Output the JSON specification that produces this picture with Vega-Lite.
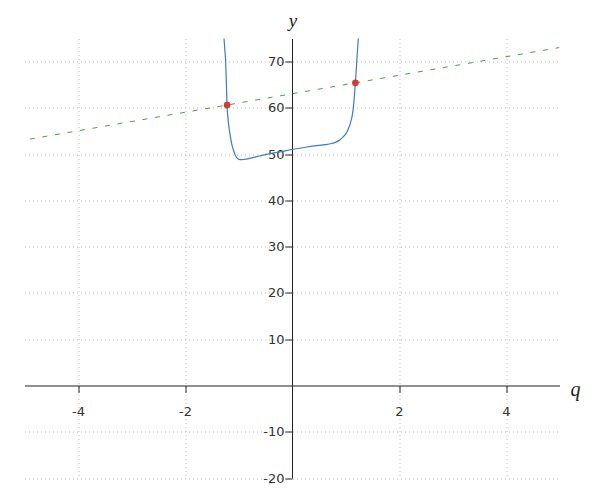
{
  "$schema": "https://vega.github.io/schema/vega-lite/v6.json",
  "autosize": "none",
  "width": 535,
  "height": 439.5,
  "padding": {"left": 24.5, "top": 38.5, "right": 40.5, "bottom": 22},
  "background": "white",
  "config": {"view": {"stroke": null}},
  "datasets": {
    "curve": [
      {"x": -1.271, "y": 75.1}, {"x": -1.255, "y": 72.5}, {"x": -1.239, "y": 69.8},
      {"x": -1.227, "y": 65.5}, {"x": -1.215, "y": 60.7}, {"x": -1.198, "y": 58.0},
      {"x": -1.178, "y": 55.8}, {"x": -1.150, "y": 53.7}, {"x": -1.127, "y": 52.2},
      {"x": -1.095, "y": 50.9}, {"x": -1.065, "y": 49.9}, {"x": -1.030, "y": 49.2},
      {"x": -0.972, "y": 48.8}, {"x": -0.900, "y": 48.85}, {"x": -0.750, "y": 49.2},
      {"x": -0.505, "y": 49.9}, {"x": -0.250, "y": 50.45}, {"x": 0.0, "y": 51.0},
      {"x": 0.250, "y": 51.5}, {"x": 0.500, "y": 51.9}, {"x": 0.617, "y": 52.05},
      {"x": 0.741, "y": 52.3}, {"x": 0.820, "y": 52.6}, {"x": 0.897, "y": 53.1},
      {"x": 0.960, "y": 53.8}, {"x": 1.022, "y": 54.7}, {"x": 1.065, "y": 55.8},
      {"x": 1.103, "y": 57.2}, {"x": 1.128, "y": 58.5}, {"x": 1.146, "y": 60.0},
      {"x": 1.166, "y": 62.5}, {"x": 1.184, "y": 65.4}, {"x": 1.198, "y": 67.7},
      {"x": 1.209, "y": 69.8}, {"x": 1.225, "y": 72.5}, {"x": 1.240, "y": 75.1}
    ],
    "tangent": [{"x": -4.9, "y": 53.25}, {"x": 5.0, "y": 73.05}],
    "pts": [{"x": -1.213, "y": 60.62}, {"x": 1.185, "y": 65.42}]
  },
  "encoding": {
    "x": {
      "field": "x", "type": "quantitative",
      "scale": {"domain": [-5, 5], "nice": false, "zero": false},
      "axis": {
        "orient": "bottom", "offset": -92.5,
        "values": [-4, -2, 2, 4],
        "labelExpr": "'' + datum.value",
        "grid": true, "gridColor": "#bbbbbb", "gridDash": [1, 3], "gridWidth": 1,
        "domainColor": "#222222", "domainWidth": 1,
        "tickColor": "#222222", "tickSize": 7, "tickWidth": 1,
        "labelFont": "DejaVu Sans", "labelFontSize": 13, "labelColor": "#333333", "labelPadding": 13,
        "title": "q", "titleFont": "Liberation Serif", "titleFontStyle": "italic", "titleFontWeight": "normal",
        "titleFontSize": 20, "titleColor": "#222222", "titleAngle": 0,
        "titleX": 550.5, "titleY": 9.5, "titleAlign": "center", "titleBaseline": "alphabetic"
      }
    },
    "y": {
      "field": "y", "type": "quantitative",
      "scale": {"domain": [-20, 75], "nice": false, "zero": false},
      "axis": {
        "orient": "left", "offset": -267.5,
        "values": [-20, -10, 10, 20, 30, 40, 50, 60, 70],
        "labelExpr": "'' + datum.value",
        "grid": true, "gridColor": "#bbbbbb", "gridDash": [1, 3], "gridWidth": 1,
        "domainColor": "#222222", "domainWidth": 1,
        "tickColor": "#222222", "tickSize": 7, "tickWidth": 1,
        "labelFont": "DejaVu Sans", "labelFontSize": 13, "labelColor": "#333333", "labelPadding": 1,
        "title": "y", "titleFont": "Liberation Serif", "titleFontStyle": "italic", "titleFontWeight": "normal",
        "titleFontSize": 19, "titleColor": "#222222", "titleAngle": 0,
        "titleX": 0.5, "titleY": -12, "titleAlign": "center", "titleBaseline": "alphabetic"
      }
    }
  },
  "layer": [
    {
      "data": {"name": "tangent"},
      "mark": {"type": "line", "color": "#4c9a4c", "strokeWidth": 1, "strokeDash": [5, 7.7], "clip": true}
    },
    {
      "data": {"name": "curve"},
      "mark": {"type": "line", "color": "#3b7cc4", "strokeWidth": 1.2, "interpolate": "monotone", "clip": true}
    },
    {
      "data": {"name": "pts"},
      "mark": {"type": "circle", "color": "#cc3e3a", "opacity": 1, "size": 45}
    }
  ]
}
